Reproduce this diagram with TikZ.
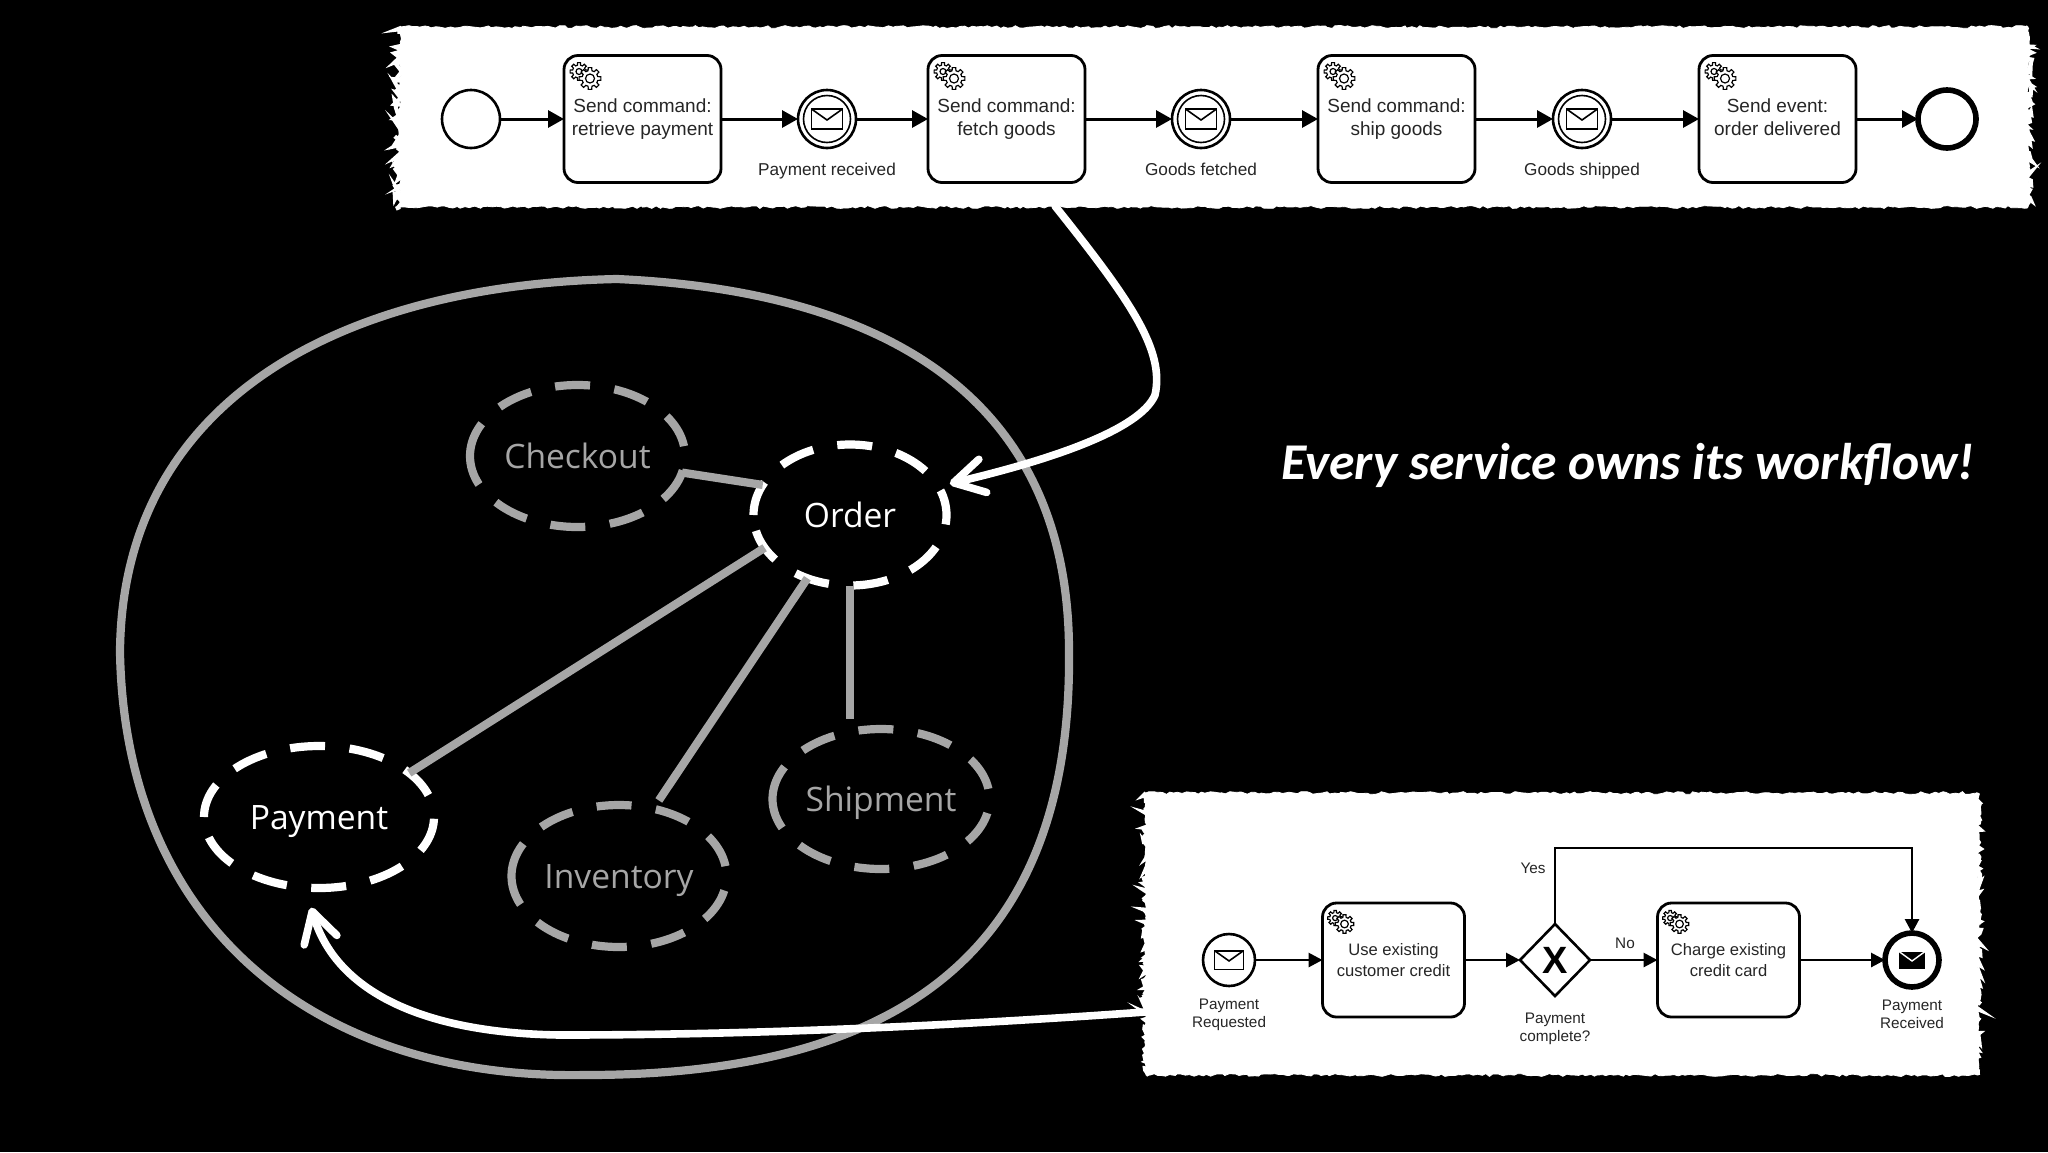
\documentclass[tikz,border=0pt]{standalone}
\usepackage{fontspec}
\setmainfont{Liberation Sans}
\newfontfamily\svcfont{Open Sans}
\newfontfamily\handfont{Carlito}
\usetikzlibrary{positioning,calc,arrows.meta,shapes.geometric,decorations.pathmorphing}

\definecolor{svcgray}{HTML}{A6A6A6}
\definecolor{inkgray}{HTML}{262626}

\tikzset{
	x=0.5pt,y=-0.5pt,
	tornpanel/.style={draw=white,fill=white,decorate,decoration={random steps,segment length=2pt,amplitude=.7pt},inner sep=0pt,outer sep=0pt},
	tornedge/.style={draw=white,line width=2pt,decorate,decoration={random steps,segment length=1pt,amplitude=#1}},
	event/.style={draw,circle,fill=white,line width=1.3pt,inner sep=0pt,outer sep=0pt,minimum size=#1},
	eventlabel/.style={text=inkgray,font=\fontsize{8.6}{11.75}\selectfont,inner sep=0pt,align=center},
	tasktop/.style={draw,fill=white,text=inkgray,rounded corners=7pt,line width=1.4pt,outer sep=0pt,inner sep=0pt,minimum width=78.5pt,minimum height=63.5pt,align=center,font=\fontsize{9.5}{11.75}\selectfont,execute at begin node=\rule{0pt}{13pt},execute at end node=\vphantom{p}},
	taskbot/.style={draw,fill=white,text=inkgray,rounded corners=7pt,line width=1.4pt,outer sep=0pt,inner sep=0pt,minimum width=71pt,minimum height=57pt,align=center,font=\fontsize{8.3}{10.3}\selectfont},
	botlabel/.style={text=inkgray,font=\fontsize{7.65}{9}\selectfont,inner sep=0pt,align=center},
	flowtop/.style={line width=1.5pt,-{Triangle[length=8pt,width=8.5pt]}},
	flowbot/.style={line width=1.4pt,-{Triangle[length=7pt,width=7pt]}},
	service/.style={shape=ellipse,inner sep=0pt,outer sep=0pt,text height=12pt,text depth=0pt,font=\svcfont\fontsize{16.8}{20}\selectfont},
	svcdash/.style={line width=4.1pt,dash pattern=on 17.5pt off 12.3pt},
	servicelink/.style={draw=svcgray,line width=4.1pt},
	handarrow/.style={draw=white,line width=3.8pt,line cap=round,-{Straight Barb[length=15pt,width=17pt,round]}},
	gearicon/.pic={
		\foreach \cx/\cy/\ra/\rb/\rc in {-11/-7/6.5/9/3,0/0/8/11/4.5}{
			\draw[fill=white,line width=.6pt] ($(\cx,\cy)+(-14:\ra)$) \foreach \a in {0,45,...,315}{ -- ($(\cx,\cy)+(\a-14:\ra)$) -- ($(\cx,\cy)+(\a-9:\rb)$) -- ($(\cx,\cy)+(\a+9:\rb)$) -- ($(\cx,\cy)+(\a+14:\ra)$) } -- cycle;
			\draw[line width=.6pt] (\cx,\cy) circle (\rc);
		}
	},
	envelope/.pic={
		\draw[line width=.8pt,fill=white] (-15.5,-10) rectangle (15.5,10);
		\draw[line width=.8pt] (-15.5,-10) -- (0,1) -- (15.5,-10);
	},
	envelopefull/.pic={
		\fill[black] (-13,-8.5) rectangle (13,8.5);
		\draw[white,line width=.7pt] (-13,-8.5) -- (0,1) -- (13,-8.5);
	},
}

\begin{document}
\begin{tikzpicture}
	\pgfmathsetseed{11}
	\fill[black] (0,0) rectangle (2048,1152);
	\useasboundingbox (0,0) rectangle (2048,1152);

	% top process
	\node[tornpanel,minimum width=814pt,minimum height=90pt] (topPanel) at (1214,117) {};
	\draw[tornedge=3pt] (topPanel.north west) -- (topPanel.south west);
	\draw[tornedge=2pt] (topPanel.north east) -- (topPanel.south east);

	\node[event=29pt] (startTop) at (471,119) {};
	\node[tasktop] (sendPay) at (642.5,119) {Send command:\\retrieve payment};
	\node[event=29pt] (evPay) at (827,119) {};
	\node[tasktop] (sendFetch) at (1006.5,119) {Send command:\\fetch goods};
	\node[event=29pt] (evFetch) at (1201,119) {};
	\node[tasktop] (sendShip) at (1396.5,119) {Send command:\\ship goods};
	\node[event=29pt] (evShip) at (1582,119) {};
	\node[tasktop] (sendDone) at (1777.5,119) {Send event:\\order delivered};
	\node[event=29pt,line width=2.8pt] (endTop) at (1947,119) {};

	\foreach \ev in {evPay,evFetch,evShip}{
		\draw[line width=.8pt] (\ev) circle (23.5);
		\pic at (\ev) {envelope};
	}
	\foreach \tsk in {sendPay,sendFetch,sendShip,sendDone}
		\pic at ($(\tsk.north west)+(26,23)$) {gearicon};

	\node[eventlabel,below=7.2pt of evPay] (lblPay) {Payment received};
	\node[eventlabel,below=7.2pt of evFetch] (lblFetch) {Goods fetched};
	\node[eventlabel,below=7.2pt of evShip] (lblShip) {Goods shipped};

	\draw[flowtop] (startTop) -- (sendPay);
	\draw[flowtop] (sendPay) -- (evPay);
	\draw[flowtop] (evPay) -- (sendFetch);
	\draw[flowtop] (sendFetch) -- (evFetch);
	\draw[flowtop] (evFetch) -- (sendShip);
	\draw[flowtop] (sendShip) -- (evShip);
	\draw[flowtop] (evShip) -- (sendDone);
	\draw[flowtop] (sendDone) -- (endTop);

	% services
	\draw[draw=svcgray,line width=4.1pt] (617,279) .. controls (860,290) and (1069,380) .. (1069,652) .. controls (1072,960) and (890,1075) .. (585,1075) .. controls (320,1080) and (125,930) .. (120,652) .. controls (122,400) and (340,285) .. (617,279) -- cycle;

	\node[service,text=svcgray,minimum width=107.5pt,minimum height=71pt] (checkout) at (577.5,456) {Checkout};
	\node[service,text=white,minimum width=96.5pt,minimum height=70.5pt] (order) at (850,515) {Order};
	\node[service,text=white,minimum width=115pt,minimum height=71pt] (payment) at (319,817) {Payment};
	\node[service,text=svcgray,minimum width=107.5pt,minimum height=71pt] (inventory) at (619,876) {Inventory};
	\node[service,text=svcgray,minimum width=108.5pt,minimum height=70pt] (shipment) at (881,799) {Shipment};

	\foreach \svc/\rx/\ry/\col in {checkout/107.5/71/svcgray,order/96.5/70.5/white,payment/115/71/white,inventory/107.5/71/svcgray,shipment/108.5/70/svcgray}
		\draw[svcdash,draw=\col] (\svc.west) arc[start angle=180,end angle=540,x radius=\rx,y radius=\ry];

	\draw[servicelink] (checkout.-9) -- (order.161);
	\draw[servicelink] (order.201) -- (payment.26);
	\draw[servicelink,shorten >=5pt] (order.236) -- (inventory.63);
	\draw[servicelink,shorten >=6pt] (order.south) -- (order.south |- shipment.112);

	% bottom process
	\node[tornpanel,minimum width=416pt,minimum height=141pt] (botPanel) at (1562,934) {};
	\foreach \edge/\edgeb in {north west/south west,north east/south east}
		\draw[tornedge=1.5pt] (botPanel.\edge) -- (botPanel.\edgeb);

	\node[event=26pt] (startBot) at (1229,960) {};
	\node[taskbot] (useCredit) at (1393.5,960) {Use existing\\customer credit};
	\node[draw,diamond,aspect=1,fill=white,line width=1.3pt,inner sep=0pt,outer sep=0pt,minimum width=35pt,minimum height=36pt,font=\bfseries\fontsize{19}{19}\selectfont] (gateway) at (1555,960) {X};
	\node[taskbot] (chargeCard) at (1728.5,960) {Charge existing\\credit card};
	\node[event=27pt,line width=2.8pt] (endBot) at (1912,960) {};

	\pic[scale=.93] at (startBot) {envelope};
	\pic at (endBot) {envelopefull};
	\foreach \tsk in {useCredit,chargeCard}
		\pic[scale=.85] at ($(\tsk.north west)+(22,21)$) {gearicon};

	\node[botlabel,below=6.3pt of startBot] (lblReq) {Payment\\Requested};
	\node[botlabel,below=8.3pt of gateway] (lblDone) {Payment\\complete?};
	\node[botlabel,below=6.3pt of endBot] (lblRecv) {Payment\\Received};
	\node[botlabel] (lblYes) at (1533,868) {Yes};
	\node[botlabel] (lblNo) at (1625,943) {No};

	\coordinate (yesTurn) at (1912,848);
	\draw[flowbot] (startBot) -- (useCredit);
	\draw[flowbot] (useCredit) -- (gateway);
	\draw[flowbot] (gateway) -- (chargeCard);
	\draw[flowbot] (chargeCard) -- (endBot);
	\draw[flowbot] (gateway.north) |- (yesTurn) -- (endBot.north);

	% hand drawn arrows
	\coordinate (topOut) at (1055,206);
	\coordinate (botOut) at (1145,1012);
	\draw[handarrow,shorten >=6pt] (topOut) .. controls (1130,300) and (1165,350) .. (1155,395) .. controls (1140,430) and (1050,460) .. (order.18);
	\draw[handarrow,shorten >=10.5pt] (botOut) .. controls (950,1026) and (750,1035) .. (560,1035) .. controls (420,1033) and (335,990) .. (payment.259);

	\node[text=white,inner sep=0pt,font=\handfont\bfseries\itshape\fontsize{25.8}{30}\selectfont] (motto) at (1628,465) {Every service owns its workflow!};
\end{tikzpicture}
\end{document}
